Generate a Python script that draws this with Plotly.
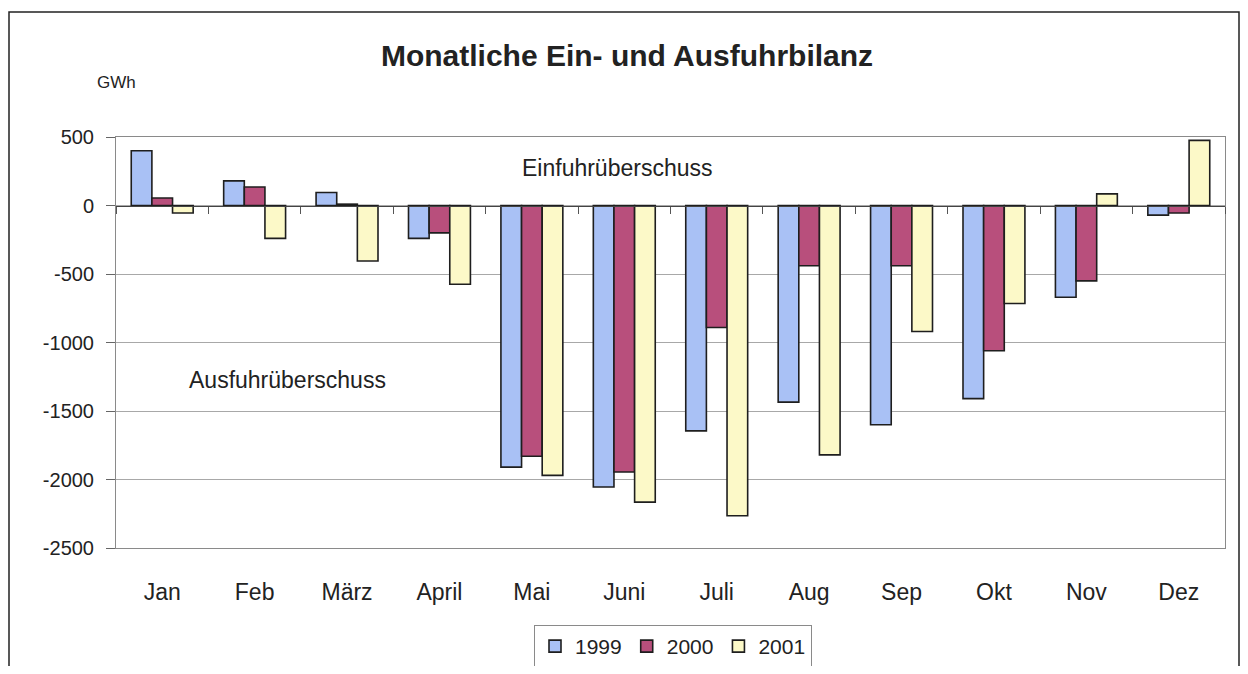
import plotly.graph_objects as go

months = ["Jan", "Feb", "März", "April", "Mai", "Juni", "Juli", "Aug", "Sep", "Okt", "Nov", "Dez"]
v1999 = [400, 180, 95, -240, -1910, -2055, -1645, -1435, -1600, -1410, -670, -70]
v2000 = [55, 135, 10, -200, -1830, -1945, -890, -440, -440, -1060, -550, -55]
v2001 = [-55, -240, -405, -575, -1970, -2165, -2265, -1820, -920, -715, 85, 475]
years = ["1999", "2000", "2001"]
colors = ["#A9C1F5", "#B84F7C", "#FCF9C8"]
y_ticks = [500, 0, -500, -1000, -1500, -2000, -2500]
y_ticktext = ["500", "0", "-500", "-1000", "-1500", "-2000", "-2500"]

FONT = "Liberation Sans, Arial, sans-serif"
# the page body adds an 8px offset; figure is sized to fit inside the window
OFF = 8
W, H = 1248 - 2 * OFF, 674 - 2 * OFF
L, T = 116 - OFF, 137 - OFF
R = OFF + W - 1225
B = OFF + H - 548
PW, PH = W - L - R, H - T - B


def px_x(x):
    return (x - OFF - L) / PW


def px_y(y):
    return (H - B - (y - OFF)) / PH


fig = go.Figure()
for name, vals, col in zip(years, [v1999, v2000, v2001], colors):
    fig.add_trace(go.Bar(
        x=months, y=vals, name=name,
        marker=dict(color=col, line=dict(color="#1e1e1e", width=1.6)),
    ))

# invisible trace for the category axis drawn at the zero line
fig.add_trace(go.Scatter(x=months, y=[None] * len(months), xaxis="x2",
                         showlegend=False, hoverinfo="skip", mode="lines"))

cat_range = [-0.5, len(months) - 0.5]

fig.update_layout(
    width=W, height=H,
    margin=dict(l=L, r=R, t=T, b=B, autoexpand=False),
    paper_bgcolor="white", plot_bgcolor="white",
    font=dict(family=FONT, size=20, color="#222"),
    barmode="group", bargap=0.33, bargroupgap=0,
    title=dict(text="<b>Monatliche Ein- und Ausfuhrbilanz</b>", x=(627 - OFF) / W, xanchor="center",
               y=1 - (55 - OFF) / H, yanchor="middle", font=dict(size=30, color="#222")),
    xaxis=dict(type="category", categoryorder="array", categoryarray=months,
               range=cat_range, autorange=False,
               showline=True, mirror=True, linecolor="#8a8a8a", linewidth=1,
               ticks="", ticklabelstandoff=23, tickfont=dict(size=23),
               showgrid=False, zeroline=False),
    xaxis2=dict(type="category", categoryorder="array", categoryarray=months,
                range=cat_range, autorange=False,
                overlaying="x", anchor="free", position=2500 / 3000,
                showline=True, linecolor="#444", linewidth=1,
                ticks="outside", ticklen=7, tickcolor="#555", tickson="boundaries",
                showticklabels=False, showgrid=False, zeroline=False),
    yaxis=dict(range=[-2500, 500], tickvals=y_ticks, ticktext=y_ticktext,
               ticks="outside", ticklen=9,
               tickcolor="#666", showline=True, mirror=True, linecolor="#8a8a8a",
               linewidth=1, showgrid=True, gridcolor="#a8a8a8", gridwidth=1,
               zeroline=False, ticklabelstandoff=8, tickfont=dict(size=20)),
    legend=dict(orientation="h", x=px_x(673), xanchor="center",
                y=px_y(625), yanchor="top",
                bordercolor="#8a8a8a", borderwidth=1, font=dict(size=21),
                itemwidth=30, traceorder="normal"),
    annotations=[
        dict(text="GWh", xref="paper", yref="paper", x=px_x(95), y=px_y(83),
             xanchor="left", yanchor="middle", showarrow=False, font=dict(size=17)),
        dict(text="Einfuhrüberschuss", xref="paper", yref="paper", x=px_x(617),
             y=px_y(168), xanchor="center", yanchor="middle", showarrow=False,
             font=dict(size=23)),
        dict(text="Ausfuhrüberschuss", xref="paper", yref="paper", x=px_x(287),
             y=px_y(380), xanchor="center", yanchor="middle", showarrow=False,
             font=dict(size=23)),
    ],
    shapes=[
        dict(type="rect", xref="paper", yref="paper",
             x0=px_x(OFF + 1), x1=px_x(OFF + W - 1),
             y0=px_y(700), y1=px_y(12),
             line=dict(color="#222", width=1.5), layer="below"),
    ],
)

fig.write_html("out.html")
